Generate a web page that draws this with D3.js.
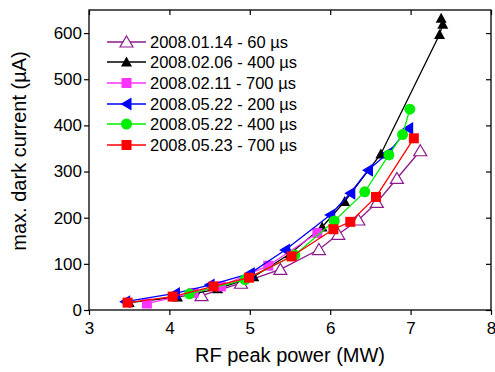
<!DOCTYPE html>
<html><head><meta charset="utf-8">
<script src="https://cdn.jsdelivr.net/npm/d3@7"></script>
<style>body{margin:0;background:#fff}svg{display:block}text{font-family:"Liberation Sans",Arial,sans-serif}</style>
</head><body><svg id="c" width="495" height="372"></svg>
<script>
const xTicks = [3,4,5,6,7,8];
const yTicks = [0,100,200,300,400,500,600];
const seriesNames = ["2008.01.14 - 60 µs","2008.02.06 - 400 µs","2008.02.11 - 700 µs","2008.05.22 - 200 µs","2008.05.22 - 400 µs","2008.05.23 - 700 µs"];
const seriesColors = ["#8B1A8B","#000000","#FF33FF","#0000FF","#00EE00","#FF0000"];
const seriesSymbols = ["triOpen","tri","square","triLeft","circle","square"];
const s1x = [4.40,4.89,5.38,5.86,6.10,6.35,6.58,6.83,7.12];
const s1y = [31,58,88,131,164,195,233,285,345];
const s2x = [3.50,4.10,4.60,5.05,5.50,5.90,6.18,6.63,7.36,7.40,7.38];
const s2y = [16,28,46,72,122,180,235,338,597,619,632];
const s3x = [3.72,4.30,4.64,5.23,5.84];
const s3y = [14,37,51,96,167];
const s4x = [3.45,4.07,4.50,5.00,5.44,6.00,6.25,6.47,6.72,6.97];
const s4y = [18,36,54,79,130,206,253,303,340,393];
const s5x = [4.25,4.94,5.56,6.05,6.43,6.73,6.90,6.99];
const s5y = [35,66,119,193,256,336,380,435];
const s6x = [3.48,4.04,4.55,4.99,5.52,6.04,6.25,6.57,7.04];
const s6y = [16,29,51,70,116,175,191,245,372];
const allX = [s1x,s2x,s3x,s4x,s5x,s6x];
const allY = [s1y,s2y,s3y,s4y,s5y,s6y];

const svg = d3.select("#c");
const L=89,R=491,T=10,B=310;
const x = d3.scaleLinear().domain([3,8]).range([L,R]);
const y = d3.scaleLinear().domain([0,650]).range([B,T]);
const minorX = d3.range(3,8.01,0.5);
const minorY = d3.range(0,651,50);

svg.append("rect").attr("x",L).attr("y",T).attr("width",R-L).attr("height",B-T).attr("fill","none").attr("stroke","#000").attr("stroke-width",1.3);

const gx = svg.append("g").attr("transform",`translate(0,${B})`);
gx.call(d3.axisBottom(x).tickValues(minorX).tickSize(3).tickFormat("")).call(g=>g.select(".domain").remove());
gx.call(d3.axisBottom(x).tickValues(xTicks).tickSize(5).tickFormat(d3.format("d")))
  .call(g=>g.select(".domain").remove())
  .call(g=>g.selectAll("text").attr("font-size",17).attr("dy","0.95em").attr("fill","#000").style("font-family","Liberation Sans, Arial"));
gx.selectAll("line").attr("stroke","#000").attr("stroke-width",1.2);
const gt = svg.append("g").attr("transform",`translate(0,${T})`);
gt.call(d3.axisTop(x).tickValues(minorX).tickSize(-3).tickFormat("")).call(g=>g.select(".domain").remove());
gt.call(d3.axisTop(x).tickValues(xTicks).tickSize(-5).tickFormat("")).call(g=>g.select(".domain").remove());
gt.selectAll("line").attr("stroke","#000").attr("stroke-width",1.2);

const gy = svg.append("g").attr("transform",`translate(${L},0)`);
gy.call(d3.axisLeft(y).tickValues(minorY).tickSize(3).tickFormat("")).call(g=>g.select(".domain").remove());
gy.call(d3.axisLeft(y).tickValues(yTicks).tickSize(5).tickFormat(d3.format("d")))
  .call(g=>g.select(".domain").remove())
  .call(g=>g.selectAll("text").attr("font-size",17).attr("fill","#000").attr("x",-7).style("font-family","Liberation Sans, Arial"));
gy.selectAll("line").attr("stroke","#000").attr("stroke-width",1.2);
const gr = svg.append("g").attr("transform",`translate(${R},0)`);
gr.call(d3.axisRight(y).tickValues(minorY).tickSize(-3).tickFormat("")).call(g=>g.select(".domain").remove());
gr.call(d3.axisRight(y).tickValues(yTicks).tickSize(-5).tickFormat("")).call(g=>g.select(".domain").remove());
gr.selectAll("line").attr("stroke","#000").attr("stroke-width",1.2);

svg.append("text").attr("x",(L+R)/2).attr("y",362).attr("text-anchor","middle").attr("font-size",20).text("RF peak power (MW)");
svg.append("text").attr("transform","translate(26,151) rotate(-90)").attr("text-anchor","middle").attr("font-size",20).text("max. dark current (µA)");

function drawSymbol(g, type, cx, cy, color){
  if(type==="circle"){
    g.append("circle").attr("cx",cx).attr("cy",cy).attr("r",5.5).attr("fill",color);
  } else if(type==="square"){
    g.append("rect").attr("x",cx-5).attr("y",cy-5).attr("width",10).attr("height",10).attr("fill",color);
  } else if(type==="tri"){
    g.append("path").attr("d",`M${cx},${cy-5.5}L${cx+5.5},${cy+4.5}L${cx-5.5},${cy+4.5}Z`).attr("fill",color);
  } else if(type==="triOpen"){
    g.append("path").attr("d",`M${cx},${cy-6}L${cx+6.5},${cy+5}L${cx-6.5},${cy+5}Z`).attr("fill","#fff").attr("stroke",color).attr("stroke-width",1.2);
  } else if(type==="triLeft"){
    g.append("path").attr("d",`M${cx-6},${cy}L${cx+5},${cy-6.5}L${cx+5},${cy+6.5}Z`).attr("fill",color);
  }
}

const line = d3.line().x(d=>x(d[0])).y(d=>y(d[1]));
[0,1,2,3,4,5].forEach(i=>{
  const pts = allX[i].map((v,j)=>[v,allY[i][j]]);
  const g = svg.append("g");
  g.append("path").attr("d",line(pts)).attr("fill","none").attr("stroke",seriesColors[i]).attr("stroke-width",1.3);
  pts.forEach(p=>drawSymbol(g,seriesSymbols[i],x(p[0]),y(p[1]),seriesColors[i]));
});

const legY = [42,62,83,104,124,145];
seriesNames.forEach((n,i)=>{
  const g = svg.append("g");
  g.append("line").attr("x1",107).attr("x2",146).attr("y1",legY[i]).attr("y2",legY[i]).attr("stroke",seriesColors[i]).attr("stroke-width",1.3);
  drawSymbol(g,seriesSymbols[i],126.5,legY[i],seriesColors[i]);
  g.append("text").attr("x",150).attr("y",legY[i]).attr("dy","0.36em").attr("font-size",16.5).text(n);
});
</script></body></html>
